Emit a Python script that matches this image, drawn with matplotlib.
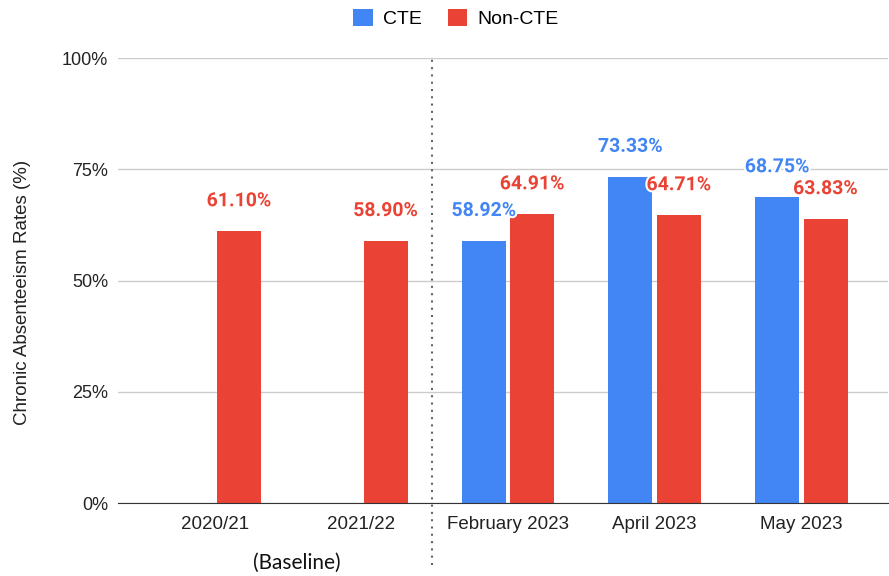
import numpy as np
import matplotlib.pyplot as plt
import matplotlib.patheffects as pe

# data
categories = ['2020/21', '2021/22', 'February 2023', 'April 2023', 'May 2023']
cte = [np.nan, np.nan, 58.92, 73.33, 68.75]
non_cte = [61.10, 58.90, 64.91, 64.71, 63.83]
y_ticks = [0, 25, 50, 75, 100]

blue = '#4285F4'
red = '#EA4335'

plt.rcParams['font.family'] = ['Liberation Sans', 'DejaVu Sans']

fig = plt.figure(figsize=(8.89, 5.76), dpi=100)
ax = fig.add_axes([0.1327, 0.1267, 0.866, 0.7726])

x = np.arange(len(categories))
w = 0.30
off = 0.165
b1 = ax.bar(x - off, cte, w, color=blue, label='CTE', zorder=3)
b2 = ax.bar(x + off, non_cte, w, color=red, label='Non-CTE', zorder=3)

halo = [pe.withStroke(linewidth=3, foreground='white')]
for xs, vals, col in [(x - off, cte, blue), (x + off, non_cte, red)]:
    for xi, v in zip(xs, vals):
        if np.isnan(v):
            continue
        ax.annotate('{:.2f}%'.format(v), (xi, v), xytext=(0, 21.5),
                    textcoords='offset points', ha='center', va='center',
                    fontsize=14, fontweight='bold', color=col,
                    family=['Roboto', 'DejaVu Sans'],
                    path_effects=halo, zorder=5)

ax.set_ylim(0, 100)
ax.set_xlim(-0.66, 4.59)
ax.set_yticks(y_ticks)
ax.set_yticklabels(['{}%'.format(t) for t in y_ticks])
ax.set_xticks(x)
ax.set_xticklabels(categories)
ax.tick_params(axis='both', length=0, colors='#222222')
ax.tick_params(axis='x', pad=9, labelsize=13.5)
ax.tick_params(axis='y', pad=7, labelsize=13)
ax.grid(axis='y', color='#cccccc', linewidth=1, zorder=0)
for s in ['top', 'right', 'left']:
    ax.spines[s].set_visible(False)
ax.spines['bottom'].set_color('#333333')
ax.spines['bottom'].set_zorder(4)
ax.set_ylabel('Chronic Absenteeism Rates (%)', fontsize=13.5, color='#222222')
ax.yaxis.set_label_coords(-0.113, 0.474)

# separator between baseline years and 2023
ax.axvline(1.48, ymin=-0.14, ymax=1.0, color='#5f6773', linestyle=(0, (1, 2.5)),
           linewidth=1.5, clip_on=False, zorder=2)
ax.text(0.56, -13.5, '(Baseline)', ha='center', va='center', fontsize=15,
        family=['Lato', 'DejaVu Sans'], color='#111111', transform=ax.transData,
        clip_on=False)

fig.legend(handles=[b1, b2], loc='upper center', bbox_to_anchor=(0.513, 1.015),
           ncol=2, frameon=False, fontsize=14, handlelength=1.0, handleheight=1.0,
           columnspacing=1.3, handletextpad=0.55)

plt.savefig('out.png', dpi=100)
